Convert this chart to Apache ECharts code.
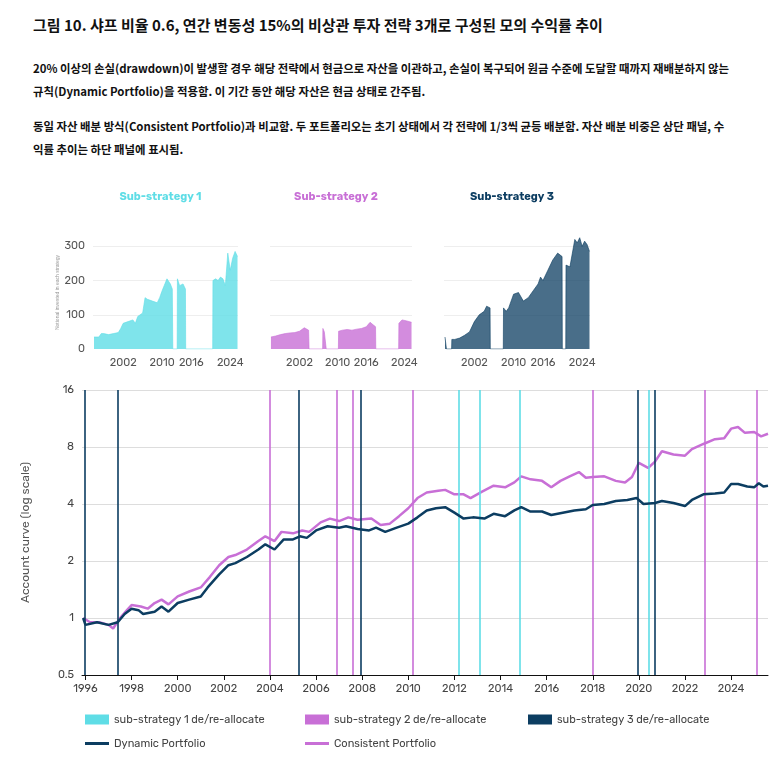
<!DOCTYPE html>
<html>
<head>
<meta charset="utf-8">
<script src="https://cdn.jsdelivr.net/npm/echarts@6/dist/echarts.min.js"></script>
<style>
  body { margin: 0; background: #fff; font-family: "Noto Sans CJK KR", "Noto Sans", sans-serif; }
  #head { position: absolute; left: 33px; top: 14px; width: 700px; color: #111; }
  #head h1 { font-size: 15px; margin: 0 0 22px 0; font-weight: bold; }
  #head p { font-size: 11.4px; font-weight: bold; line-height: 23px; margin: 0 0 12px 0; }
  #chart { position: absolute; left: 0; top: 0; width: 773px; height: 761px; }
</style>
</head>
<body>
<div id="head">
  <h1>그림 10. 샤프 비율 0.6, 연간 변동성 15%의 비상관 투자 전략 3개로 구성된 모의 수익률 추이</h1>
  <p>20% 이상의 손실(drawdown)이 발생할 경우 해당 전략에서 현금으로 자산을 이관하고, 손실이 복구되어 원금 수준에 도달할 때까지 재배분하지 않는 규칙(Dynamic Portfolio)을 적용함. 이 기간 동안 해당 자산은 현금 상태로 간주됨.</p>
  <p>동일 자산 배분 방식(Consistent Portfolio)과 비교함. 두 포트폴리오는 초기 상태에서 각 전략에 1/3씩 균등 배분함. 자산 배분 비중은 상단 패널, 수익률 추이는 하단 패널에 표시됨.</p>
</div>
<div id="chart"></div>
<script>
var C1 = "#5fdde6", C2 = "#c86fd6", C3 = "#0c3d61";

// notional invested per sub-strategy [year, value]
var sub1 = [[1996,35],[1997,35],[1997.5,45],[1998,45],[1999,42],[2000,45],[2001,48],[2001.5,60],[2002,75],[2003,80],[2004,85],[2004.5,75],[2005,95],[2006,105],[2006.5,150],[2007,145],[2008,140],[2009,135],[2009.5,150],[2010,170],[2011,205],[2011.7,190],[2012.1,175],[2012.2,0],[2013.1,0],[2013.15,205],[2013.6,185],[2014.3,190],[2014.8,175],[2014.85,0],[2020.4,0],[2020.45,200],[2021,205],[2021.5,200],[2022,210],[2022.5,205],[2023,185],[2023.5,280],[2024,230],[2024.5,265],[2025,285],[2025.5,270]];
var sub2 = [[1996,35],[1997,38],[1998,42],[1999,45],[2000,47],[2001,48],[2002,52],[2003,62],[2003.9,55],[2004,0],[2006.85,0],[2006.9,60],[2007.2,50],[2007.55,45],[2007.6,0],[2010.15,0],[2010.2,52],[2011,55],[2012,57],[2013,55],[2014,58],[2015,60],[2016,65],[2016.8,78],[2017.5,70],[2017.95,65],[2018,0],[2022.8,0],[2022.85,75],[2023.5,85],[2024.5,82],[2025.5,78]];
var sub3 = [[1996,35],[1996.2,30],[1996.3,0],[1997.35,0],[1997.4,28],[1998,28],[1999,32],[2000,40],[2001,50],[2002,80],[2003,100],[2004,110],[2004.5,125],[2005.2,120],[2005.25,0],[2007.9,0],[2007.95,120],[2008.5,110],[2009,120],[2010,160],[2011,165],[2012,140],[2013,150],[2014,170],[2015,190],[2015.5,210],[2016,200],[2017,230],[2018,260],[2019,280],[2019.9,270],[2019.95,0],[2020.65,0],[2020.7,245],[2021.5,240],[2022,280],[2022.5,320],[2023,310],[2023.5,325],[2024,300],[2024.5,315],[2025,305],[2025.5,285]];

// account curves [year, value]
var dynamic = [[1995.9,1.0],[1996.0,0.92],[1996.5,0.95],[1997.0,0.92],[1997.4,0.95],[1997.7,1.05],[1998.0,1.12],[1998.3,1.10],[1998.5,1.05],[1999,1.08],[1999.3,1.15],[1999.6,1.08],[2000,1.2],[2000.5,1.25],[2001,1.3],[2001.3,1.45],[2001.8,1.7],[2002.2,1.9],[2002.5,1.95],[2003,2.1],[2003.5,2.3],[2003.8,2.45],[2004.2,2.3],[2004.6,2.6],[2005,2.6],[2005.3,2.7],[2005.6,2.65],[2006,2.9],[2006.5,3.05],[2007,3.0],[2007.3,3.05],[2007.8,2.95],[2008.3,2.9],[2008.6,3.0],[2009,2.85],[2009.5,3.0],[2010,3.15],[2010.4,3.4],[2010.8,3.7],[2011.2,3.8],[2011.6,3.85],[2012,3.6],[2012.4,3.35],[2012.8,3.4],[2013.3,3.35],[2013.7,3.55],[2014.2,3.45],[2014.6,3.7],[2014.9,3.85],[2015.3,3.65],[2015.8,3.65],[2016.2,3.5],[2016.7,3.6],[2017.2,3.7],[2017.7,3.75],[2018,3.95],[2018.5,4.0],[2019,4.15],[2019.5,4.2],[2019.9,4.3],[2020.2,4.0],[2020.7,4.05],[2021,4.15],[2021.5,4.05],[2022,3.9],[2022.3,4.2],[2022.8,4.5],[2023.3,4.55],[2023.7,4.6],[2024,5.1],[2024.3,5.1],[2024.7,4.95],[2025,4.9],[2025.2,5.15],[2025.4,4.95],[2025.6,5.0]];
var consistent = [[1995.9,1.0],[1996.2,0.95],[1996.6,0.95],[1997.0,0.92],[1997.2,0.88],[1997.5,1.0],[1997.8,1.1],[1998,1.17],[1998.4,1.15],[1998.7,1.12],[1999,1.2],[1999.3,1.25],[1999.6,1.18],[2000,1.3],[2000.5,1.38],[2001,1.45],[2001.4,1.65],[2001.8,1.9],[2002.2,2.1],[2002.5,2.15],[2003,2.3],[2003.5,2.55],[2003.8,2.7],[2004.2,2.55],[2004.5,2.85],[2005,2.8],[2005.4,2.9],[2005.7,2.85],[2006.2,3.2],[2006.6,3.35],[2007,3.25],[2007.4,3.4],[2007.8,3.3],[2008.4,3.35],[2008.8,3.1],[2009.2,3.15],[2009.6,3.45],[2010,3.8],[2010.4,4.3],[2010.8,4.6],[2011.3,4.7],[2011.6,4.75],[2012,4.5],[2012.4,4.5],[2012.7,4.3],[2013.2,4.65],[2013.7,5.0],[2014.2,4.9],[2014.6,5.2],[2014.9,5.6],[2015.3,5.4],[2015.8,5.3],[2016.2,4.9],[2016.6,5.3],[2017,5.6],[2017.4,5.9],[2017.7,5.5],[2018,5.55],[2018.5,5.6],[2019,5.3],[2019.4,5.2],[2019.7,5.55],[2020,6.6],[2020.4,6.2],[2020.7,6.7],[2021,7.6],[2021.5,7.3],[2022,7.2],[2022.3,7.8],[2022.8,8.3],[2023.3,8.8],[2023.7,8.9],[2024,10.0],[2024.3,10.2],[2024.6,9.5],[2025,9.6],[2025.3,9.1],[2025.6,9.4]];

// de/re-allocation dates
var events1 = [2012.2, 2013.1, 2014.85, 2020.45];
var events2 = [2004.0, 2006.9, 2007.6, 2010.2, 2018.0, 2022.85, 2025.1];
var events3 = [1995.95, 1997.4, 2005.25, 2007.95, 2019.95, 2020.7];

var smallYears = [2002, 2010, 2016, 2024];
var smallTicks = [0, 100, 200, 300];
var mainYears = [1996,1998,2000,2002,2004,2006,2008,2010,2012,2014,2016,2018,2020,2022,2024];
var logTicks = [0.5, 1, 2, 4, 8, 16];

var chart = echarts.init(document.getElementById("chart"));
var font = "Rubik, Inter, 'Noto Sans', sans-serif";
var yearFmt = function (v) { return String(Math.round(v)); };

var smallGrids = [[93, 238], [270, 412], [444, 590]];
var grids = [], xAxes = [], yAxes = [], series = [], titles = [];
var subs = [sub1, sub2, sub3], cols = [C1, C2, C3];
smallGrids.forEach(function (g, i) {
    grids.push({ left: g[0], width: g[1] - g[0], top: 236, height: 113 });
    titles.push({ text: "Sub-strategy " + (i + 1), left: (g[0] + g[1]) / 2 - 10, top: 186, textAlign: "center",
        textStyle: { color: cols[i], fontSize: 11, fontWeight: "bold", fontFamily: font } });
    xAxes.push({ type: "value", gridIndex: i, min: 1995.8, max: 2025.6,
        axisLine: { show: false }, axisTick: { show: false }, splitLine: { show: false },
        axisLabel: { customValues: smallYears, formatter: yearFmt, color: "#555", fontSize: 11, fontFamily: font } });
    yAxes.push({ type: "value", gridIndex: i, min: 0, max: 330,
        name: i === 0 ? "Notional invested in each strategy" : "", nameLocation: "middle", nameGap: 30,
        nameTextStyle: { fontSize: 5, color: "#999" },
        axisLabel: { show: i === 0, customValues: smallTicks, color: "#555", fontSize: 11, fontFamily: font },
        axisTick: { show: false }, axisLine: { show: false },
        splitLine: { show: false } });
    series.push({ type: "line", xAxisIndex: i, yAxisIndex: i, data: subs[i], symbol: "none",
        lineStyle: { color: cols[i], width: 1, opacity: 0.6 }, itemStyle: { color: cols[i] },
        areaStyle: { color: cols[i], opacity: i === 2 ? 0.75 : 0.8 },
        markLine: { symbol: "none", silent: true, label: { show: false }, z: 0,
            lineStyle: { color: "#eee", width: 1, type: "solid" },
            data: [{ yAxis: 100 }, { yAxis: 200 }, { yAxis: 300 }] } });
});

grids.push({ left: 82, right: 5, top: 390, bottom: 86 });
xAxes.push({ type: "value", gridIndex: 3, min: 1995.85, max: 2025.6,
    axisLine: { lineStyle: { color: "#111" } },
    axisTick: { customValues: mainYears, lineStyle: { color: "#111" } },
    splitLine: { show: false },
    axisLabel: { customValues: mainYears, formatter: yearFmt, color: "#444", fontSize: 11, fontFamily: font } });
yAxes.push({ type: "log", logBase: 2, gridIndex: 3, min: 0.5, max: 16,
    name: "Account curve (log scale)", nameLocation: "middle", nameGap: 50,
    nameTextStyle: { color: "#555", fontSize: 12, fontFamily: font },
    axisLine: { show: false }, axisTick: { show: false },
    axisLabel: { customValues: logTicks, color: "#444", fontSize: 11, fontFamily: font },
    splitLine: { lineStyle: { color: "#ddd" } } });

function eventSeries(name, col, dates) {
    return { name: name, type: "line", xAxisIndex: 3, yAxisIndex: 3, data: [], itemStyle: { color: col },
        markLine: { symbol: "none", silent: true, label: { show: false },
            lineStyle: { color: col, width: 1.6, type: "solid" },
            data: dates.map(function (d) { return { xAxis: d }; }) } };
}
series.push(eventSeries("sub-strategy 1 de/re-allocate", C1, events1));
series.push(eventSeries("sub-strategy 2 de/re-allocate", C2, events2));
series.push(eventSeries("sub-strategy 3 de/re-allocate", C3, events3));
series.push({ name: "Dynamic Portfolio", type: "line", xAxisIndex: 3, yAxisIndex: 3, data: dynamic,
    symbol: "none", z: 5, lineStyle: { color: C3, width: 2.5 }, itemStyle: { color: C3 } });
series.push({ name: "Consistent Portfolio", type: "line", xAxisIndex: 3, yAxisIndex: 3, data: consistent,
    symbol: "none", z: 4, lineStyle: { color: C2, width: 2.5 }, itemStyle: { color: C2 } });

function legendAt(name, left, top, isLine) {
    return { data: [{ name: name, icon: "rect" }], left: left, top: top,
        itemWidth: 24, itemHeight: isLine ? 3 : 10,
        textStyle: { color: "#444", fontSize: 11, fontFamily: font } };
}

chart.setOption({
    animation: false,
    title: titles,
    grid: grids,
    xAxis: xAxes,
    yAxis: yAxes,
    legend: [
        legendAt("sub-strategy 1 de/re-allocate", 80, 709, false),
        legendAt("sub-strategy 2 de/re-allocate", 300, 709, false),
        legendAt("sub-strategy 3 de/re-allocate", 523, 709, false),
        legendAt("Dynamic Portfolio", 80, 733, true),
        legendAt("Consistent Portfolio", 300, 733, true)
    ],
    series: series
});
</script>
</body>
</html>
